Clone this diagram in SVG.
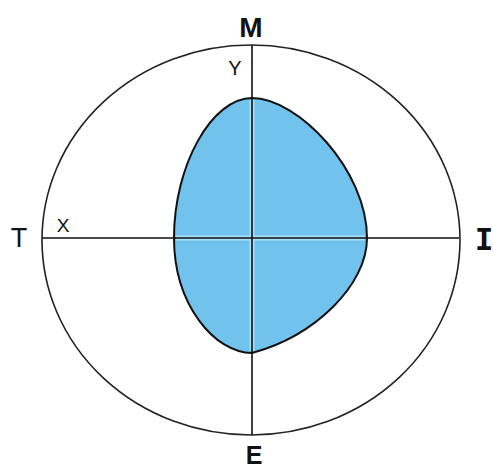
<svg xmlns="http://www.w3.org/2000/svg" width="493" height="470" viewBox="0 0 493 470">
<style>
.lbl{font-family:"Liberation Sans",Arial,sans-serif;fill:#111;text-anchor:middle}
.axis{stroke:#111;stroke-width:1.6;fill:none}
.halo{stroke:#a6e0f7;stroke-width:5;fill:none}
</style>
<rect width="493" height="470" fill="#fff"/>
<g id="outline">
<ellipse cx="251" cy="240" rx="209" ry="195" fill="none" stroke="#222" stroke-width="1.6"/>
</g>
<g id="region">
<path d="M252,98 C298,98 367,170 367,238 C367,285 315,336 252,353 C215,353 174,305 174,238 C174,165 212,98 252,98 Z" fill="#72c2ee" stroke="#111" stroke-width="2"/>
</g>
<g id="connectors">
<line class="halo" x1="176" y1="238" x2="365" y2="238"/>
<line class="halo" x1="252" y1="100" x2="252" y2="351"/>
<line class="axis" x1="252" y1="45" x2="252" y2="435"/>
<line class="axis" x1="42" y1="238" x2="459" y2="238"/>
</g>
<g id="labels">
<text class="lbl" x="251" y="37" font-size="28" font-weight="bold">M</text>
<text class="lbl" x="254" y="464" font-size="25" font-weight="bold">E</text>
<text class="lbl" x="19" y="247" font-size="27">T</text>
<text class="lbl" x="484" y="250" font-size="31" font-weight="bold" style="font-family:'DejaVu Sans Mono',monospace">I</text>
<text class="lbl" x="235" y="75" font-size="20">Y</text>
<text class="lbl" x="63" y="232" font-size="19">X</text>
</g>
</svg>
